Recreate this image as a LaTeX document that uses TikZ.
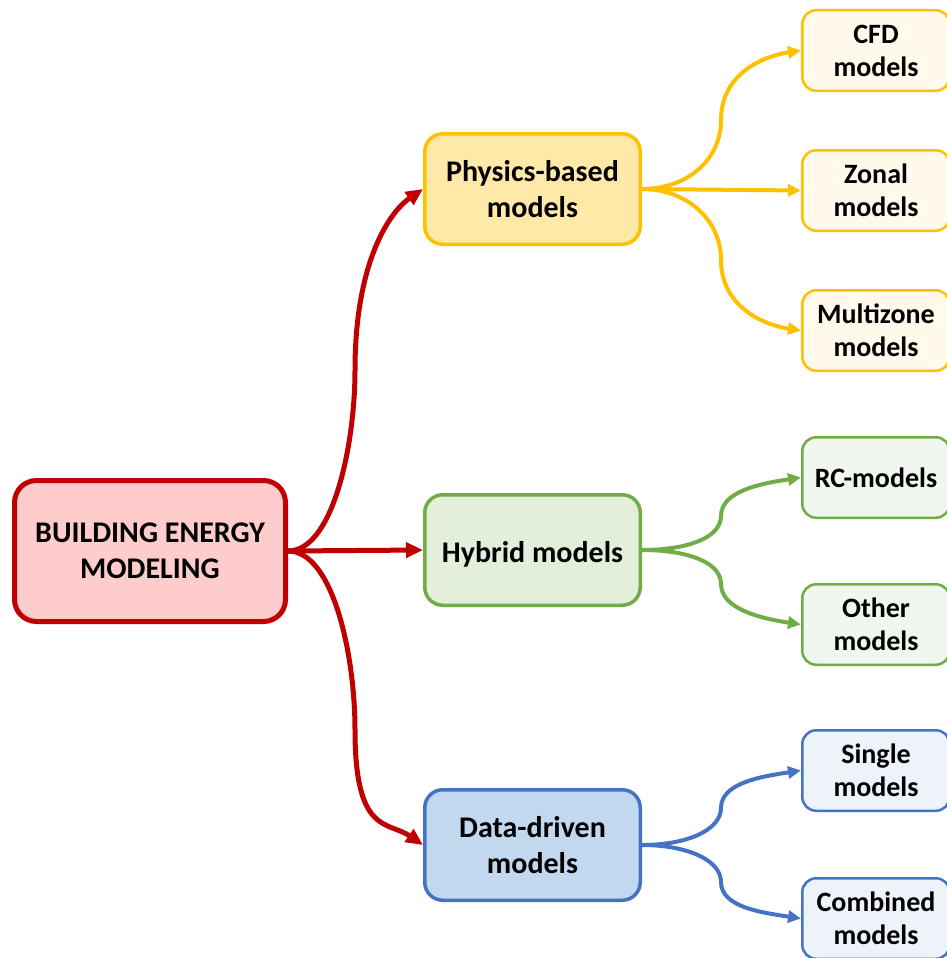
\documentclass[tikz,border=0pt]{standalone}
\usepackage{fontspec}
\setmainfont{Carlito}
\usetikzlibrary{arrows.meta}

\definecolor{bemred}{HTML}{C00000}
\definecolor{bemfill}{HTML}{FFCCCC}
\definecolor{physline}{HTML}{FFC000}
\definecolor{physfill}{HTML}{FFE9A8}
\definecolor{physleaf}{HTML}{FFFAEC}
\definecolor{hybline}{HTML}{70AD47}
\definecolor{hybfill}{HTML}{E2EFDA}
\definecolor{hybleaf}{HTML}{F1F7EE}
\definecolor{dataline}{HTML}{4472C4}
\definecolor{datafill}{HTML}{C2D8EF}
\definecolor{dataleaf}{HTML}{EEF3FA}

\tikzset{
  mainbox/.style={draw=bemred, fill=bemfill, line width=5pt, rounded corners=22pt,
    minimum width=271pt, minimum height=141pt, align=center, inner sep=0pt,
    font=\fontsize{30}{36}\selectfont\bfseries},
  catbox/.style 2 args={draw=#1, fill=#2, line width=3.5pt, rounded corners=18pt,
    minimum width=215.5pt, minimum height=110.5pt, align=center, inner sep=0pt,
    font=\fontsize{30}{36}\selectfont\bfseries},
  leafbox/.style 2 args={draw=#1, fill=#2, line width=2.5pt, rounded corners=14pt,
    minimum width=147.5pt, minimum height=80.5pt, align=center, inner sep=0pt,
    font=\fontsize{28}{33}\selectfont\bfseries},
  mainlink/.style={draw=bemred, line width=5pt,
    -{Triangle[length=17pt,width=15pt]}},
  sublink/.style={draw=#1, line width=4pt,
    -{Triangle[length=13pt,width=12pt]}},
}

\begin{document}
\begin{tikzpicture}[x=1pt,y=-1pt]
\useasboundingbox (0,0) rectangle (947,958);

% root and the three model families
\node[mainbox] (bem) at (150,551) {BUILDING ENERGY\\MODELING};
\node[catbox={physline}{physfill}] (phys) at (532.5,189) {Physics-based\\models};
\node[catbox={hybline}{hybfill}] (hyb) at (532.5,550) {\rule{0pt}{30pt}Hybrid models};
\node[catbox={dataline}{datafill}] (data) at (532.5,845) {Data-driven\\models};

% sub-categories
\node[leafbox={physline}{physleaf}] (cfd) at (876,50.5) {CFD\\models};
\node[leafbox={physline}{physleaf}] (zonal) at (876,190.5) {Zonal\\models};
\node[leafbox={physline}{physleaf}] (multi) at (876,330.5) {Multizone\\models};
\node[leafbox={hybline}{hybleaf}] (rc) at (876,477.5) {RC-models};
\node[leafbox={hybline}{hybleaf}] (other) at (876,624.5) {Other\\models};
\node[leafbox={dataline}{dataleaf}] (single) at (876,770.5) {Single\\models};
\node[leafbox={dataline}{dataleaf}] (comb) at (876,918.5) {Combined\\models};

% turning points of the curved connectors
\coordinate (r1) at (355,370);
\coordinate (r3) at (355,730);
\coordinate (y1) at (721,120);
\coordinate (y3) at (721,260);
\coordinate (g1) at (721,516);
\coordinate (g2) at (721,584);
\coordinate (b1) at (721,808);
\coordinate (b2) at (721,882);

% root connectors
\draw[mainlink] (bem.east) .. controls +(45,0) and +(0,75) .. (r1)
  .. controls +(0,-105) and +(-35,24) .. (phys.west);
\draw[mainlink] (bem.east) -- (hyb.west);
\draw[mainlink] (bem.east) .. controls +(45,0) and +(0,-75) .. (r3)
  .. controls +(0,105) and +(-35,-24) .. (data.west);

% physics-based branches
\draw[sublink=physline] (phys.east) .. controls +(45,0) and +(0,40) .. (y1)
  .. controls +(0,-45) and +(-40,6) .. (cfd.west);
\draw[sublink=physline] (phys.east) -- (zonal.west);
\draw[sublink=physline] (phys.east) .. controls +(45,0) and +(0,-40) .. (y3)
  .. controls +(0,45) and +(-40,-6) .. (multi.west);

% hybrid branches
\draw[sublink=hybline] (hyb.east) .. controls +(45,0) and +(0,22) .. (g1)
  .. controls +(0,-25) and +(-40,6) .. (rc.west);
\draw[sublink=hybline] (hyb.east) .. controls +(45,0) and +(0,-22) .. (g2)
  .. controls +(0,25) and +(-40,-6) .. (other.west);

% data-driven branches
\draw[sublink=dataline] (data.east) .. controls +(45,0) and +(0,22) .. (b1)
  .. controls +(0,-25) and +(-40,6) .. (single.west);
\draw[sublink=dataline] (data.east) .. controls +(45,0) and +(0,-22) .. (b2)
  .. controls +(0,25) and +(-40,-6) .. (comb.west);
\end{tikzpicture}
\end{document}
